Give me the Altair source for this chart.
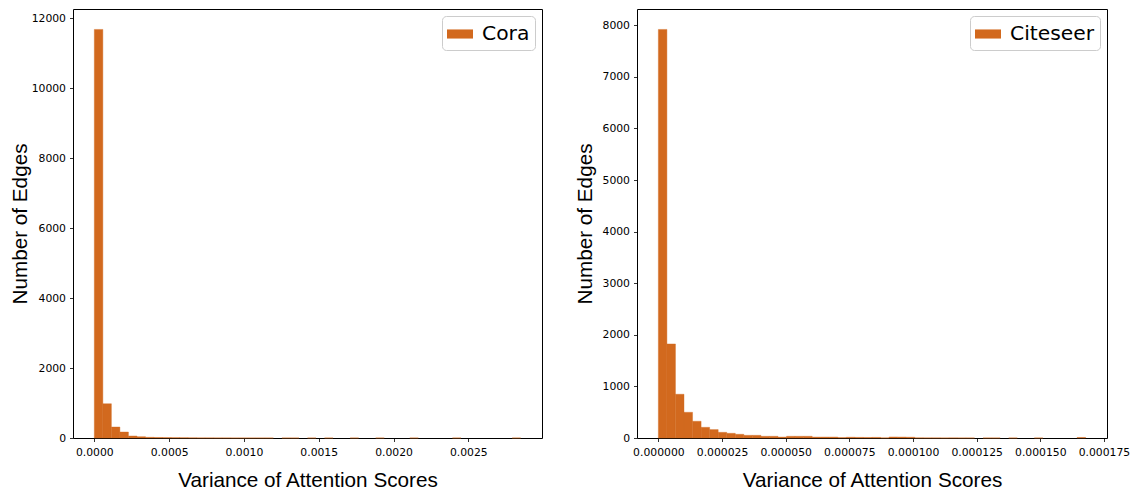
import altair as alt
import pandas as pd

ORANGE = "#D2691E"

# ---- data (50-bin histograms) ----
cora_name = "Cora"
cora_xmax = 0.00285
cora_counts = [11680, 980, 314, 171, 57, 37, 20, 15, 12, 10, 8, 5, 3, 3, 2, 2, 1, 1, 1, 1,
               1, 0, 1, 1, 0, 1, 0, 1, 0, 0, 1, 0, 0, 1, 0, 0, 0, 1, 0, 0,
               0, 0, 1, 0, 0, 0, 0, 0, 0, 1]

cite_name = "Citeseer"
cite_xmax = 0.0001678
cite_counts = [7920, 1823, 848, 498, 324, 207, 163, 110, 91, 72, 52, 52, 33, 33, 18, 33, 33, 33, 18, 18,
               18, 8, 15, 12, 10, 12, 3, 20, 18, 15, 3, 2, 2, 1, 2, 1, 1, 0, 1, 1,
               0, 1, 0, 0, 1, 0, 0, 0, 0, 10]

cora_xticks = [0.0, 0.0005, 0.0010, 0.0015, 0.0020, 0.0025]
cite_xticks = [0.0, 0.000025, 0.000050, 0.000075, 0.000100, 0.000125, 0.000150, 0.000175]
cora_yticks = [0, 2000, 4000, 6000, 8000, 10000, 12000]
cite_yticks = [0, 1000, 2000, 3000, 4000, 5000, 6000, 7000, 8000]

x_title = "Variance of Attention Scores"
y_title = "Number of Edges"


def hist_df(counts, xmax, name):
    w = xmax / len(counts)
    return pd.DataFrame({
        "start": [i * w for i in range(len(counts))],
        "end": [(i + 1) * w for i in range(len(counts))],
        "count": counts,
        "dataset": name,
    })


def panel(counts, xmax, name, xticks, xfmt, yticks, width, height, ytitle_pad):
    df = hist_df(counts, xmax, name)
    ymax = max(counts) * 1.05
    xdom = [-0.05 * xmax, 1.05 * xmax]
    common_axis = dict(
        grid=False, domain=False, tickSize=3.5, tickColor="black", tickWidth=0.8,
        labelFont="DejaVu Sans", labelFontSize=10.8, labelColor="black",
        titleFont="Liberation Sans", titleFontSize=20.7, titleFontWeight="normal", titleColor="black",
        labelFlush=False, labelOverlap=False,
    )
    return alt.Chart(df).transform_filter(alt.datum["count"] > 0).mark_bar(
        stroke=ORANGE, strokeWidth=0.4, opacity=1
    ).encode(
        x=alt.X("start:Q", scale=alt.Scale(domain=xdom, nice=False, zero=False),
                axis=alt.Axis(values=xticks, format=xfmt, title=x_title, titlePadding=13,
                              labelPadding=5, **common_axis)),
        x2="end:Q",
        y=alt.Y("count:Q", scale=alt.Scale(domain=[0, ymax], nice=False),
                axis=alt.Axis(values=yticks, format="d", title=y_title, titlePadding=ytitle_pad,
                              labelPadding=4, **common_axis)),
        y2=alt.datum(0),
        color=alt.Color("dataset:N", scale=alt.Scale(domain=[name], range=[ORANGE]),
                        legend=alt.Legend(
                            title=None, orient="top-right", offset=7,
                            labelFont="DejaVu Sans", labelFontSize=20.3, labelColor="black",
                            symbolType="M-1,-0.35H1V0.35H-1Z", symbolSize=676,
                            symbolStrokeWidth=0, symbolOpacity=1, labelOffset=9,
                            strokeColor="#cccccc", fillColor="white",
                            cornerRadius=4, padding=5,
                        )),
    ).properties(width=width, height=height)


left = panel(cora_counts, cora_xmax, cora_name, cora_xticks, ".4f", cora_yticks, 469, 429, 1)
right = panel(cite_counts, cite_xmax, cite_name, cite_xticks, ".6f", cite_yticks, 470, 429, 7)

chart = alt.hconcat(left, right, spacing=30).resolve_scale(color="independent").properties(
    padding={"left": 8, "top": 8, "right": 0, "bottom": 0}
).configure(background="white").configure_view(stroke="black", strokeWidth=1)

chart.save("out.html", embed_options={"renderer": "svg", "actions": False})
